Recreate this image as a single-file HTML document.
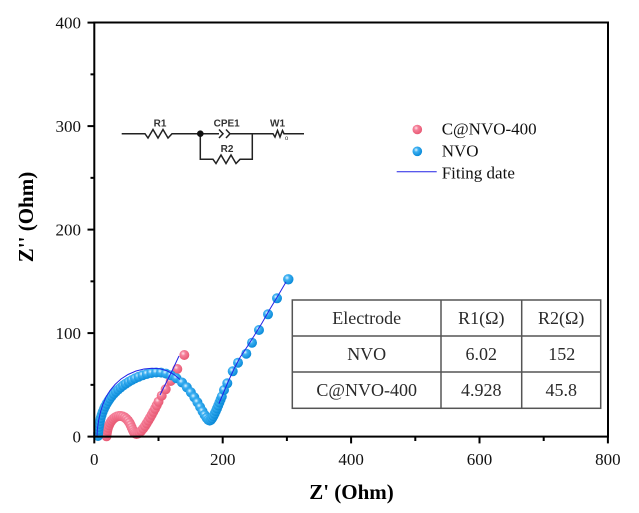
<!DOCTYPE html>
<html><head><meta charset="utf-8"><style>
html,body{margin:0;padding:0;background:#fff;}
svg{display:block;}
</style></head><body>
<svg width="639" height="513" viewBox="0 0 639 513" xmlns="http://www.w3.org/2000/svg">
<defs>
<radialGradient id="gb" cx="0.38" cy="0.35" r="0.65">
<stop offset="0" stop-color="#e6f6ff"/><stop offset="0.35" stop-color="#3cb0f2"/><stop offset="1" stop-color="#0a8ad8"/>
</radialGradient>
<radialGradient id="gp" cx="0.38" cy="0.35" r="0.65">
<stop offset="0" stop-color="#ffe4ea"/><stop offset="0.35" stop-color="#f5809a"/><stop offset="1" stop-color="#e85a74"/>
</radialGradient>
</defs>
<rect width="639" height="513" fill="#fff"/>

<!-- circuit -->
<g stroke="#222" stroke-width="1.5" fill="none">
<polyline points="121.7,133.7 145,133.7 148,138 153,129.5 158,138 163,129.5 168,138 172,133.7 175,133.7 200.3,133.7 219,133.7"/>
<polyline points="219,129.5 223,133.7 219,138"/>
<polyline points="226,129.5 230,133.7 226,138"/>
<polyline points="230,133.7 252.3,133.7 273,133.7 275,137 277.5,130.5 280,137 282.5,130.5 284,133.7 304,133.7"/>
<polyline points="200.3,133.7 200.3,159.3 213,159.3 216,163.5 221,155 226,163.5 231,155 236,163.5 240,159.3 252.3,159.3 252.3,133.7"/>
</g>
<circle cx="200.3" cy="133.7" r="3.3" fill="#111"/>
<g font-family="Liberation Sans, sans-serif" font-size="10" font-weight="bold" fill="#333" text-anchor="middle">
<text x="160" y="126.5">R1</text>
<text x="226.7" y="126.5">CPE1</text>
<text x="277.5" y="126.5">W1</text>
<text x="227" y="152">R2</text>
<text x="286.5" y="140" font-size="6" font-weight="normal">o</text>
</g>

<!-- pink markers -->
<g fill="url(#gp)">
<circle cx="106.5" cy="436.3" r="5"/><circle cx="106.8" cy="433.3" r="5"/><circle cx="107.3" cy="430.5" r="5"/><circle cx="108" cy="427.8" r="5"/><circle cx="109" cy="425.2" r="5"/><circle cx="110.2" cy="422.8" r="5"/><circle cx="111.6" cy="420.7" r="5"/><circle cx="113.2" cy="418.9" r="5"/><circle cx="115" cy="417.5" r="5"/><circle cx="116.9" cy="416.5" r="5"/><circle cx="118.9" cy="416" r="5"/><circle cx="120.9" cy="416" r="5"/><circle cx="122.9" cy="416.5" r="5"/><circle cx="124.8" cy="417.5" r="5"/><circle cx="126.5" cy="418.9" r="5"/><circle cx="128.1" cy="420.7" r="5"/><circle cx="129.5" cy="422.8" r="5"/><circle cx="130.7" cy="425.2" r="5"/><circle cx="131.8" cy="427.7" r="5"/><circle cx="132.8" cy="430" r="5"/><circle cx="133.8" cy="432" r="5"/><circle cx="135" cy="433.4" r="5"/><circle cx="136.4" cy="434" r="5"/><circle cx="138" cy="433.6" r="5"/><circle cx="139.6" cy="432.5" r="5"/><circle cx="141.3" cy="430.8" r="5"/><circle cx="143.2" cy="428.5" r="5"/><circle cx="145" cy="426" r="5"/><circle cx="146.7" cy="423.3" r="5"/><circle cx="148.3" cy="420.6" r="5"/><circle cx="150" cy="417.8" r="5"/><circle cx="151.7" cy="414.8" r="5"/><circle cx="153.3" cy="411.8" r="5"/><circle cx="155" cy="408.7" r="5"/><circle cx="156.7" cy="405.3" r="5"/><circle cx="158.5" cy="401.7" r="5"/><circle cx="161.7" cy="395.7" r="5"/><circle cx="165.7" cy="389.3" r="5"/><circle cx="170.7" cy="381" r="5"/><circle cx="177.3" cy="369" r="5"/><circle cx="184.3" cy="355" r="5"/>
</g>

<!-- blue markers -->
<g fill="url(#gb)">
<circle cx="98" cy="436" r="5"/><circle cx="98.2" cy="433" r="5"/><circle cx="98.5" cy="430" r="5"/><circle cx="98.9" cy="427" r="5"/><circle cx="99.4" cy="424" r="5"/><circle cx="100" cy="421" r="5"/><circle cx="100.7" cy="418" r="5"/><circle cx="101.6" cy="415" r="5"/><circle cx="102.6" cy="412" r="5"/><circle cx="103.8" cy="409.2" r="5"/><circle cx="105.1" cy="406.4" r="5"/><circle cx="106.6" cy="403.7" r="5"/><circle cx="108.2" cy="401.1" r="5"/><circle cx="109.9" cy="398.6" r="5"/><circle cx="111.7" cy="396.2" r="5"/><circle cx="113.7" cy="393.9" r="5"/><circle cx="115.8" cy="391.7" r="5"/><circle cx="118.1" cy="389.6" r="5"/><circle cx="120.5" cy="387.6" r="5"/><circle cx="123" cy="385.6" r="5"/><circle cx="125.7" cy="383.7" r="5"/><circle cx="128.6" cy="381.9" r="5"/><circle cx="131.7" cy="380.1" r="5"/><circle cx="135" cy="378.4" r="5"/><circle cx="138.6" cy="376.8" r="5"/><circle cx="142.5" cy="375.3" r="5"/><circle cx="146.8" cy="374" r="5"/><circle cx="151.4" cy="373" r="5"/><circle cx="156.2" cy="372.5" r="5"/><circle cx="161.1" cy="372.6" r="5"/><circle cx="166" cy="373.6" r="5"/><circle cx="171" cy="375.4" r="5"/><circle cx="176.5" cy="378.3" r="5"/><circle cx="182" cy="382.5" r="5"/><circle cx="186.8" cy="387.3" r="5"/><circle cx="190.8" cy="392.3" r="5"/><circle cx="194.3" cy="397.3" r="5"/><circle cx="197.4" cy="402.3" r="5"/><circle cx="200.1" cy="407" r="5"/><circle cx="202.5" cy="411.3" r="5"/><circle cx="204.6" cy="414.9" r="5"/><circle cx="206.5" cy="417.8" r="5"/><circle cx="208.2" cy="419.8" r="5"/><circle cx="209.7" cy="420.6" r="5"/><circle cx="211" cy="419.8" r="5"/><circle cx="212.2" cy="418.2" r="5"/><circle cx="213.4" cy="416.1" r="5"/><circle cx="214.6" cy="413.7" r="5"/><circle cx="215.8" cy="411.1" r="5"/><circle cx="217" cy="408.4" r="5"/><circle cx="218.2" cy="405.5" r="5"/><circle cx="219.4" cy="402.5" r="5"/><circle cx="220.6" cy="399.5" r="5"/><circle cx="221.8" cy="396.5" r="5"/><circle cx="224" cy="390" r="5"/><circle cx="227.3" cy="383.3" r="5"/><circle cx="232.7" cy="371.3" r="5"/><circle cx="238" cy="362.7" r="5"/><circle cx="246.3" cy="353.7" r="5"/><circle cx="252" cy="342.7" r="5"/><circle cx="259" cy="330" r="5"/><circle cx="268" cy="314.3" r="5"/><circle cx="277" cy="298.3" r="5"/><circle cx="288.3" cy="279.3" r="5.2"/>
</g>

<!-- fit lines -->
<g stroke="#2222e6" stroke-width="1" fill="none">
<polyline points="97,436 97.5,428 98.7,420 100.5,412 103,404 106,397 110,390.5 115,384.5 121,379 128,374.5 136,371 144,369 152,368.3 160,368.8 167,370.8 174,374.5 180,379.5"/>
<polyline points="219,403.5 223,394 228,382 234,369 240,357.5 247,347 254,336 262,323 270,309 279,294 286,282"/>
<polyline points="160,395 165,385 172,371 179,356"/>
</g>

<!-- table -->
<g stroke="#555" stroke-width="1.5" fill="none">
<rect x="292.3" y="300" width="308.4" height="108.3"/>
<line x1="292.3" y1="336" x2="600.7" y2="336"/>
<line x1="292.3" y1="372" x2="600.7" y2="372"/>
<line x1="441" y1="300" x2="441" y2="408.3"/>
<line x1="521.7" y1="300" x2="521.7" y2="408.3"/>
</g>
<g font-family="Liberation Serif, serif" font-size="18" fill="#2a2a2a" text-anchor="middle">
<text x="366.7" y="324">Electrode</text>
<text x="481.3" y="324">R1(Ω)</text>
<text x="561.2" y="324">R2(Ω)</text>
<text x="366.7" y="360">NVO</text>
<text x="481.3" y="360">6.02</text>
<text x="561.7" y="360">152</text>
<text x="366.7" y="396">C@NVO-400</text>
<text x="481.3" y="396">4.928</text>
<text x="561.2" y="396">45.8</text>
</g>

<!-- legend -->
<circle cx="417.3" cy="129.5" r="4.8" fill="url(#gp)"/>
<circle cx="417.3" cy="151.3" r="4.8" fill="url(#gb)"/>
<line x1="396.7" y1="171.7" x2="436.7" y2="171.7" stroke="#2222e6" stroke-width="1"/>
<g font-family="Liberation Serif, serif" font-size="17" fill="#111">
<text x="441.7" y="134.5">C@NVO-400</text>
<text x="441.7" y="156.5">NVO</text>
<text x="441.7" y="178.5">Fiting date</text>
</g>

<!-- axes frame -->
<rect x="94.3" y="22.5" width="513.7" height="414.1" fill="none" stroke="#000" stroke-width="2"/>
<g stroke="#000" stroke-width="2">
<line x1="87.5" y1="436.6" x2="94.3" y2="436.6"/>
<line x1="87.5" y1="333.1" x2="94.3" y2="333.1"/>
<line x1="87.5" y1="229.6" x2="94.3" y2="229.6"/>
<line x1="87.5" y1="126.1" x2="94.3" y2="126.1"/>
<line x1="87.5" y1="22.6" x2="94.3" y2="22.6"/>
<line x1="90.5" y1="384.85" x2="94.3" y2="384.85"/>
<line x1="90.5" y1="281.35" x2="94.3" y2="281.35"/>
<line x1="90.5" y1="177.85" x2="94.3" y2="177.85"/>
<line x1="90.5" y1="74.35" x2="94.3" y2="74.35"/>
<line x1="94.3" y1="436.6" x2="94.3" y2="443.4"/>
<line x1="222.7" y1="436.6" x2="222.7" y2="443.4"/>
<line x1="351.1" y1="436.6" x2="351.1" y2="443.4"/>
<line x1="479.5" y1="436.6" x2="479.5" y2="443.4"/>
<line x1="607.9" y1="436.6" x2="607.9" y2="443.4"/>
<line x1="158.5" y1="436.6" x2="158.5" y2="441"/>
<line x1="286.9" y1="436.6" x2="286.9" y2="441"/>
<line x1="415.3" y1="436.6" x2="415.3" y2="441"/>
<line x1="543.7" y1="436.6" x2="543.7" y2="441"/>
</g>
<g font-family="Liberation Serif, serif" font-size="17" fill="#111">
<g text-anchor="end">
<text x="81" y="442.5">0</text>
<text x="81" y="339">100</text>
<text x="81" y="235.5">200</text>
<text x="81" y="132">300</text>
<text x="81" y="28.5">400</text>
</g>
<g text-anchor="middle">
<text x="94.3" y="465">0</text>
<text x="222.7" y="465">200</text>
<text x="351.1" y="465">400</text>
<text x="479.5" y="465">600</text>
<text x="607.9" y="465">800</text>
</g>
</g>
<g font-family="Liberation Serif, serif" font-size="21" font-weight="bold" fill="#000" text-anchor="middle">
<text x="351.5" y="499">Z' (Ohm)</text>
<text transform="translate(33,217) rotate(-90)" x="0" y="0">Z'' (Ohm)</text>
</g>
</svg>
</body></html>
